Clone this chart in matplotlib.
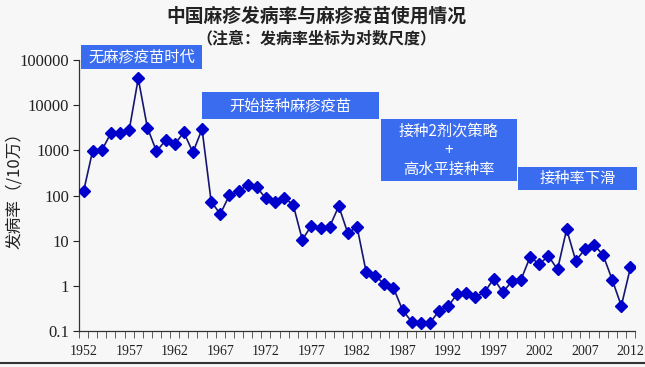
import numpy as np
import matplotlib
matplotlib.use('Agg')
import matplotlib.pyplot as plt
from matplotlib.patches import Rectangle
from matplotlib.lines import Line2D

plt.rcParams['font.family'] = ['Noto Sans CJK SC', 'DejaVu Sans']

years = list(range(1952, 2013))
rate = [123, 980, 1000, 2400, 2400, 2750, 39000, 3200, 950, 1660,
        1360, 2500, 900, 2950, 73, 39, 101, 123, 173, 153,
        86, 71, 90, 62, 10.5, 21.5, 19, 20.4, 58, 14.5,
        20.5, 2.05, 1.67, 1.1, 0.9, 0.29, 0.16, 0.15, 0.15, 0.28,
        0.35, 0.67, 0.69, 0.57, 0.72, 1.45, 0.72, 1.27, 1.38, 4.4,
        3.0, 4.6, 2.3, 17.8, 3.6, 6.4, 8.1, 4.8, 1.36, 0.36,
        2.55]

year_labels = [1952, 1957, 1962, 1967, 1972, 1977, 1982, 1987, 1992, 1997, 2002, 2007, 2012]
y_ticks = [0.1, 1, 10, 100, 1000, 10000, 100000]
y_ticklabels = ['0.1', '1', '10', '100', '1000', '10000', '100000']

title = '中国麻疹发病率与麻疹疫苗使用情况'
subtitle = '（注意：发病率坐标为对数尺度）'
ylabel = '发病率（/10万）'
# (text, left px, top px, right px, bottom px)
boxes = [
    ('无麻疹疫苗时代', 81, 45, 202, 69),
    ('开始接种麻疹疫苗', 202, 92, 379, 119),
    ('接种2剂次策略\n+\n高水平接种率', 381, 119, 517, 181),
    ('接种率下滑', 518, 167, 637, 190),
]

W, H = 645, 367
bg = '#f7f7f7'
fig = plt.figure(figsize=(W / 100, H / 100), dpi=100, facecolor=bg)
ax = fig.add_axes([79 / W, (H - 331) / H, (635 - 79) / W, (331 - 60) / H])
ax.set_facecolor(bg)

ax.plot(years, rate, color='#161670', linewidth=1.2, marker='D',
        markersize=6, markerfacecolor='#0000cc', markeredgecolor='#0000cc', zorder=3)

ax.set_yscale('log')
ax.set_ylim(0.1, 100000)
ax.set_xlim(1951.5, 2012.5)

ax.set_yticks(y_ticks)
ax.set_yticklabels(y_ticklabels, fontsize=12, family='Liberation Serif')
ax.yaxis.set_minor_locator(matplotlib.ticker.NullLocator())
ax.tick_params(axis='y', direction='out', length=4, width=0.8, pad=3, colors='#222222')

ax.set_xticks(year_labels)
ax.set_xticklabels([str(y) for y in year_labels], fontsize=10, family='Liberation Serif')
ax.tick_params(axis='x', which='major', length=0, pad=10, colors='#222222')
ax.set_xticks(np.arange(1951.5, 2013, 1.0), minor=True)
ax.tick_params(axis='x', which='minor', direction='out', length=5, width=0.6, color='#444444')

for s in ['top', 'right']:
    ax.spines[s].set_visible(False)
for s in ['left', 'bottom']:
    ax.spines[s].set_color('#333333')
    ax.spines[s].set_linewidth(0.9)

fig.text(316 / W, 1 - 16 / H, title, ha='center', va='center', fontsize=13.5,
         fontweight='bold', color='#222222')
fig.text(316 / W, 1 - 38 / H, subtitle, ha='center', va='center', fontsize=11.5,
         fontweight='bold', color='#222222')
fig.text(15 / W, 1 - 186 / H, ylabel, ha='center', va='center', rotation=90,
         fontsize=12, color='#222222')

for txt, x0, y0, x1, y1 in boxes:
    fig.patches.append(Rectangle((x0 / W, 1 - y1 / H), (x1 - x0) / W, (y1 - y0) / H,
                                 transform=fig.transFigure, facecolor='#3a6cf0',
                                 edgecolor='none', zorder=5))
    fig.text((x0 + x1) / 2 / W, 1 - (y0 + y1) / 2 / H, txt, ha='center', va='center',
             fontsize=11, color='white', linespacing=1.15, zorder=6)

fig.lines.append(Line2D([0, 1], [1 - 363 / H, 1 - 363 / H], transform=fig.transFigure,
                        color='#333333', linewidth=1.5))

fig.savefig('out.png', dpi=100, facecolor=bg)
